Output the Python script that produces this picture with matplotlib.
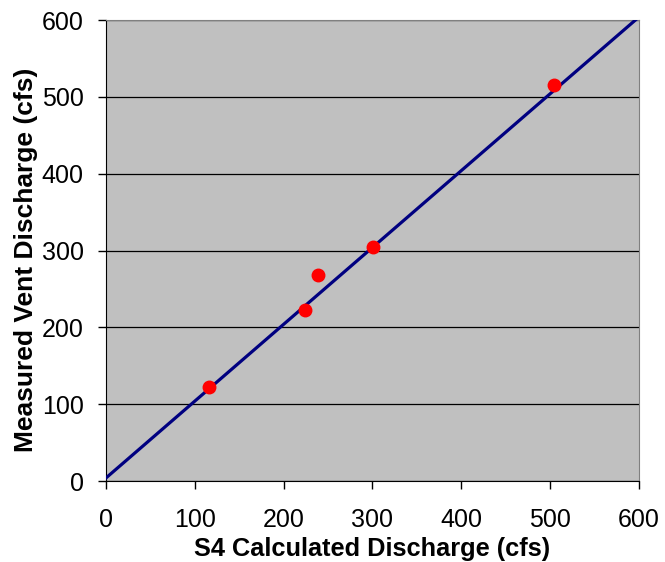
import numpy as np
import matplotlib
matplotlib.use("Agg")
import matplotlib.pyplot as plt

plt.rcParams['font.family'] = ['Liberation Sans', 'DejaVu Sans']

# S4 calculated vs measured vent discharge (cfs)
calc_q = [116, 224, 238.7, 300.6, 504.3]
meas_q = [122.3, 222.6, 268, 304.6, 515.4]

# trend line parameters
fit_slope = 1.0
fit_intercept = 4.0

ticks = [0, 100, 200, 300, 400, 500, 600]

fig = plt.figure(figsize=(6.65, 5.62), dpi=100)
ax = fig.add_axes([0.1594, 0.1441, 0.8015, 0.8203])
ax.set_facecolor('#C0C0C0')

xl = np.array([0, 600])
ax.plot(xl, fit_intercept + fit_slope * xl, color='#000080', lw=2.3, zorder=3)
ax.plot(calc_q, meas_q, 'o', color='red', ms=9, zorder=4)

ax.set_xlim(0, 600)
ax.set_ylim(0, 600)
ax.set_xticks(ticks)
ax.set_yticks(ticks)
ax.yaxis.grid(True, color='black', lw=0.9)
ax.set_axisbelow(True)

for s in ['top', 'right']:
    ax.spines[s].set_color('#808080')
for s in ['left', 'bottom']:
    ax.spines[s].set_color('black')
ax.tick_params(axis='both', direction='out', length=6, width=1, labelsize=18)
ax.tick_params(axis='x', pad=13.5)
ax.tick_params(axis='y', pad=10)

ax.set_xlabel('S4 Calculated Discharge (cfs)', fontsize=18.3, fontweight='bold')
ax.set_ylabel('Measured Vent Discharge (cfs)', fontsize=19, fontweight='bold')
ax.xaxis.set_label_coords(0.5, -0.1215)
ax.yaxis.set_label_coords(-0.128, 0.4805)

fig.savefig('out.png', dpi=100)
